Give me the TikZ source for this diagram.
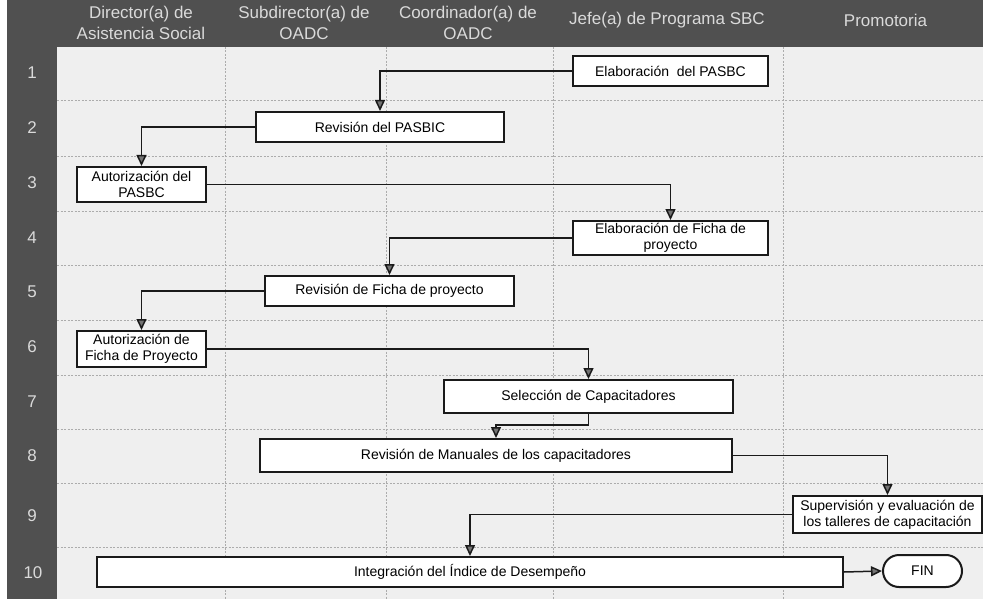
\documentclass[tikz,border=0pt]{standalone}
\usepackage{fontspec}
\setmainfont{Liberation Sans}
\usetikzlibrary{arrows.meta}
\definecolor{band}{HTML}{505050}
\definecolor{bandtext}{HTML}{DADADA}
\definecolor{paper}{HTML}{EFEFEF}
\definecolor{ink}{HTML}{1A1A1A}
\definecolor{gridline}{HTML}{ACACAC}

\begin{document}
\begin{tikzpicture}[x=1pt,y=-1pt,
  hdr/.style={text=bandtext, font=\fontsize{17}{21}\selectfont, align=center, inner sep=0pt},
  rownum/.style={text=bandtext, font=\fontsize{17}{20}\selectfont, inner sep=0pt},
  task/.style={draw=ink, line width=2pt, fill=white, text=black,
               font=\fontsize{14}{16}\selectfont, align=center, inner sep=0pt},
  flow/.style={draw=ink, line width=1.5pt, -{Triangle[length=11pt,width=10pt,fill=black!55]}},
  lane/.style={draw=gridline, line width=0.6pt, dash pattern=on 2pt off 1.5pt}]

\useasboundingbox (0,0) rectangle (983,599);
\fill[white] (0,0) rectangle (983,599);
\fill[paper] (57,47) rectangle (983,599);
\fill[band] (7,0) rectangle (983,47);
\fill[band] (7,47) rectangle (57,599);

% lane and row separators
\foreach \yy in {100,156,211,265,320,375,429,483,547}
  \draw[lane] (57,\yy) -- (983,\yy);
\foreach \xx in {225,386,553,783}
  \draw[lane] (\xx,47) -- (\xx,599);

% column headings
\node[hdr] (h1) at (141,22.5) {Director(a) de\\Asistencia Social};
\node[hdr] (h2) at (304,22.5) {Subdirector(a) de\\OADC};
\node[hdr] (h3) at (468,22.5) {Coordinador(a) de\\OADC};
\node[hdr] (h4) at (667,20) {Jefe(a) de Programa SBC};
\node[hdr] (h5) at (885.5,20) {Promotoria};

% step numbers
\node[rownum] (r1) at (32,73) {1};
\node[rownum] (r2) at (32,128) {2};
\node[rownum] (r3) at (32,183) {3};
\node[rownum] (r4) at (32,238) {4};
\node[rownum] (r5) at (32,292) {5};
\node[rownum] (r6) at (32,347) {6};
\node[rownum] (r7) at (32,402) {7};
\node[rownum] (r8) at (32,456) {8};
\node[rownum] (r9) at (32,516) {9};
\node[rownum] (r10) at (33,573) {10};

% activities
\node[task, minimum width=195pt, minimum height=30pt] (b1) at (670.5,71) {Elaboración~ del PASBC};
\node[task, minimum width=248pt, minimum height=30pt] (b2) at (380,127) {Revisión del PASBIC};
\node[task, minimum width=129pt, minimum height=35pt] (b3) at (141.5,184.5) {Autorización del\\PASBC};
\node[task, minimum width=195pt, minimum height=34pt] (b4) at (670.5,238) {Elaboración de Ficha de\\proyecto};
\node[task, minimum width=249pt, minimum height=30pt] (b5) at (389.5,291) {Revisión de Ficha de proyecto};
\node[task, minimum width=129pt, minimum height=36pt] (b6) at (141.5,349) {Autorización de\\Ficha de Proyecto};
\node[task, minimum width=289pt, minimum height=33pt] (b7) at (588.5,396.5) {Selección de Capacitadores};
\node[task, minimum width=472pt, minimum height=33pt] (b8) at (496,455.5) {Revisión de Manuales de los capacitadores};
\node[task, minimum width=189pt, minimum height=37pt] (b9) at (887.5,514.5) {Supervisión y evaluación de\\los talleres de capacitación};
\node[task, minimum width=746pt, minimum height=30pt] (b10) at (470,572) {Integración del Índice de Desempeño};
\node[task, minimum width=79pt, minimum height=32pt, rounded corners=16pt] (fin) at (922.5,571) {FIN};

% flow between activities
\draw[flow] (b1.west) -| (b2.north);
\draw[flow] (b2.west) -| (b3.north);
\draw[flow] (b3.east) -| (b4.north);
\draw[flow] (b4.west) -| (b5.north);
\draw[flow] (b5.west) -| (b6.north);
\draw[flow] (b6.east) -| (b7.north);
\draw[flow] (b7.south) -- ++(0,11) -| (b8.north);
\draw[flow] (b8.east) -| (b9.north);
\draw[flow] (b9.west) -| (b10.north);
\draw[flow] (b10.east) -- (fin.west);
\end{tikzpicture}
\end{document}
